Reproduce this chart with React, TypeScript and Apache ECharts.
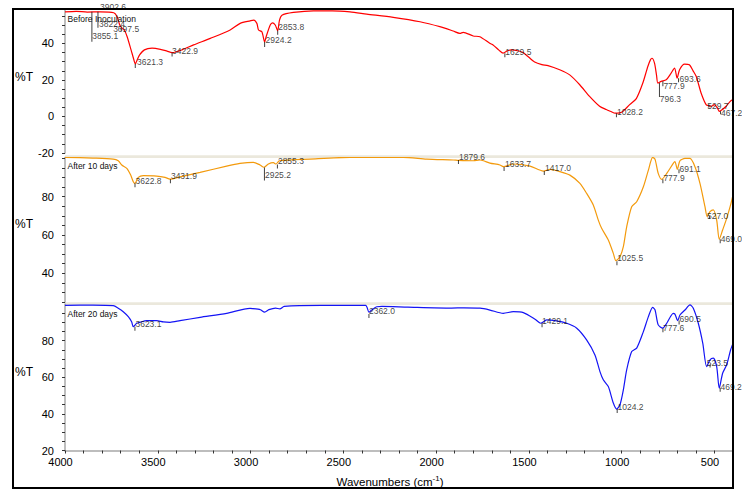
import React, { useEffect, useRef } from "react";
import * as echarts from "echarts";

// ---------- data (wavenumber cm-1, %T) ----------
const beforeInoculation: [number, number][] = [
  [4000, 57.3], [3940, 57.6], [3880, 57.2], [3809, 57.3], [3737, 56.8], [3719, 54.6], [3705, 50.1],
  [3692, 48.3], [3680, 47.4], [3665, 43.7], [3644, 36.5], [3630, 31.5], [3621, 28.8], [3610, 31.2],
  [3598, 33.7], [3572, 36.5], [3531, 37.4], [3486, 36.8], [3450, 35.8], [3423, 35.0], [3369, 36.5],
  [3307, 39.2], [3217, 42.8], [3110, 47.4], [3056, 51.0], [3002, 52.4], [2984, 52.8], [2966, 51.0],
  [2957, 47.4], [2939, 46.4], [2924, 40.8], [2916, 43.7], [2894, 50.1], [2882, 51.3], [2867, 50.1],
  [2854, 47.0], [2844, 52.8], [2831, 55.5], [2769, 57.0], [2661, 57.9], [2560, 57.9], [2464, 57.3],
  [2374, 56.1], [2231, 54.3], [2087, 51.9], [1980, 49.2], [1908, 46.8], [1872, 45.5], [1854, 46.1],
  [1800, 44.1], [1764, 43.7], [1711, 40.1], [1693, 39.2], [1660, 36.2], [1639, 34.7], [1615, 36.0],
  [1594, 36.5], [1560, 36.0], [1531, 35.0], [1500, 32.4], [1469, 29.8], [1430, 28.4], [1397, 27.9],
  [1334, 25.6], [1280, 22.8], [1226, 17.4], [1173, 11.0], [1119, 5.6], [1083, 3.8], [1055, 2.6],
  [1036, 1.8], [1010, 2.0], [993, 2.8], [957, 6.5], [921, 9.8], [886, 18.3], [859, 27.4], [845, 31.0],
  [837, 31.9], [823, 29.2], [812, 22.5], [805, 18.3], [787, 19.2], [760, 20.1], [735, 23.5], [715, 26.5],
  [701, 21.0], [688, 25.6], [661, 28.7], [635, 28.3], [615, 25.0], [598, 21.9], [572, 12.9], [545, 6.5],
  [530, 5.8], [518, 5.6], [500, 6.5], [485, 4.8], [473, 2.8], [455, 4.0], [437, 5.6], [415, 8.3], [400, 9.3],
];

const after10Days: [number, number][] = [
  [4000, 100.6], [3850, 100.2], [3740, 99.7], [3713, 98.8], [3694, 96.6], [3667, 94.8], [3646, 91.3],
  [3632, 87.8], [3623, 87.0], [3605, 90.1], [3578, 91.0], [3506, 90.8], [3461, 90.1], [3434, 89.2],
  [3380, 90.4], [3272, 92.7], [3129, 96.0], [3057, 97.4], [2985, 98.0], [2949, 96.6], [2928, 95.4],
  [2904, 97.1], [2877, 97.8], [2863, 97.1], [2845, 98.8], [2680, 99.7], [2464, 100.6], [2177, 100.6],
  [2051, 99.7], [1907, 99.2], [1880, 99.0], [1800, 98.8], [1763, 99.2], [1710, 97.6], [1656, 96.6],
  [1638, 95.7], [1584, 97.1], [1494, 96.0], [1422, 93.4], [1386, 94.3], [1332, 93.1], [1279, 91.3],
  [1225, 87.0], [1189, 81.8], [1153, 75.7], [1126, 67.8], [1108, 63.5], [1072, 57.4], [1045, 50.4],
  [1031, 46.6], [1009, 48.7], [991, 53.9], [973, 64.3], [946, 74.8], [919, 77.4], [883, 85.2],
  [856, 93.9], [833, 100.6], [820, 99.5], [803, 92.2], [784, 89.1], [757, 92.2], [722, 97.4],
  [713, 98.3], [700, 94.3], [686, 98.8], [659, 100.0], [632, 100.0], [605, 95.7], [578, 87.0],
  [551, 74.8], [539, 69.6], [524, 72.2], [506, 73.1], [488, 67.8], [474, 57.8], [456, 62.6],
  [434, 68.7], [413, 75.7], [400, 81.0],
];

const after20Days: [number, number][] = [
  [4000, 99.3], [3850, 99.4], [3740, 99.1], [3713, 97.7], [3686, 95.8], [3659, 93.1], [3641, 90.3],
  [3632, 87.6], [3614, 89.5], [3596, 90.0], [3560, 90.9], [3506, 90.9], [3470, 90.2], [3434, 90.0],
  [3380, 90.9], [3272, 92.7], [3129, 94.9], [3003, 97.6], [2960, 97.2], [2947, 96.9], [2924, 95.6],
  [2901, 96.9], [2866, 97.8], [2842, 97.3], [2819, 98.7], [2620, 99.3], [2380, 99.3], [2362, 95.5],
  [2345, 96.9], [2320, 98.5], [2292, 98.7], [2152, 98.3], [1918, 97.8], [1850, 97.9], [1763, 97.7],
  [1710, 96.7], [1638, 94.9], [1584, 95.8], [1530, 95.3], [1467, 91.7], [1436, 89.5], [1404, 91.3],
  [1359, 90.9], [1296, 89.5], [1242, 86.8], [1189, 80.4], [1144, 72.2], [1117, 63.1], [1099, 58.6],
  [1072, 54.9], [1045, 45.9], [1027, 42.6], [1009, 45.0], [991, 53.1], [973, 64.0], [946, 74.0],
  [919, 75.9], [883, 84.9], [856, 93.1], [833, 98.2], [820, 96.7], [803, 88.6], [779, 86.8],
  [757, 89.5], [722, 94.9], [713, 94.5], [698, 90.9], [686, 94.0], [659, 96.7], [632, 99.5],
  [614, 97.7], [587, 89.5], [563, 78.6], [542, 65.8], [524, 69.5], [506, 70.4], [488, 65.8],
  [474, 54.0], [456, 62.2], [434, 66.8], [413, 74.9], [400, 78.5],
];

// peak labels: [wavenumber, %T, text]
const peaksBefore: [number, number, string][] = [
  [3902.6, 57.3, "3902.6"], [3855.1, 57.3, "3855.1"], [3822.4, 57.3, "3822.4"], [3697.5, 48.6, "3697.5"],
  [3621.3, 28.8, "3621.3"], [3422.9, 35.0, "3422.9"], [2924.2, 40.8, "2924.2"], [2853.8, 47.0, "2853.8"],
  [1629.5, 34.7, "1629.5"], [1028.2, 1.8, "1028.2"], [796.3, 18.3, "796.3"], [777.9, 19.3, "777.9"],
  [693.6, 21.0, "693.6"], [529.7, 6.5, "529.7"], [467.2, 2.8, "467.2"],
];
const peaks10: [number, number, string][] = [
  [3622.8, 87.0, "3622.8"], [3431.9, 89.2, "3431.9"], [2925.2, 95.3, "2925.2"], [2855.3, 96.8, "2855.3"],
  [1879.6, 99.2, "1879.6"], [1633.7, 95.5, "1633.7"], [1417.0, 93.5, "1417.0"], [1025.5, 46.3, "1025.5"],
  [777.9, 89.1, "777.9"], [691.1, 94.3, "691.1"], [527.0, 70.0, "527.0"], [469.0, 57.8, "469.0"],
];
const peaks20: [number, number, string][] = [
  [3623.1, 87.6, "3623.1"], [2362.0, 94.5, "2362.0"], [1429.1, 89.5, "1429.1"], [1024.2, 42.6, "1024.2"],
  [777.6, 86.8, "777.6"], [690.5, 91.0, "690.5"], [523.5, 67.0, "523.5"], [469.2, 54.2, "469.2"],
];

const panelTitles = ["Before Inoculation", "After 10 days", "After 20 days"];
const yTitle = "%T";
const xTitle = "Wavenumbers (cm";
const xTitleSup = "-1";

// ---------- styles / layout ----------
const FONT = "'Liberation Sans', Arial, Helvetica, sans-serif";
const colors = ["#ff0000", "#f39a0c", "#1414f5"];
const grids = [
  { left: 65, top: 9.5, width: 668, height: 143.5 },
  { left: 65, top: 157.5, width: 668, height: 144.5 },
  { left: 65, top: 304, width: 668, height: 146.5 },
];
const yRanges: [number, number][] = [[-20, 58.6], [25, 100.5], [20, 100]];
const titleY = [19, 166, 314];
const yTitleY = [77, 224, 372];
// per-label style: [tick length, text dx, text dy]
const labelStyle: Record<string, [number, number, number]>[] = [
  {
    "3902.6": [0, 17, -5], "3855.1": [30, 0.3, 24], "3822.4": [16, 1, 12], "3697.5": [3, -8, 1.5],
    "3621.3": [4, 1.7, -2], "3422.9": [4, 0, -1.6], "2924.2": [5, 1, -2], "2853.8": [4, 0.5, -4],
    "1629.5": [4, 0.5, -1.5], "1028.2": [4, 0.5, -1.5], "796.3": [14, 0.3, 15.6], "777.9": [5, 0.5, 4.5],
    "693.6": [4, 1, 0.8], "529.7": [3, -1.7, 1.4], "467.2": [3, 0.5, 2],
  },
  {
    "3622.8": [4, 0.5, -2.3], "3431.9": [4, 0.5, -3], "2925.2": [13, 0.5, 7.3], "2855.3": [4, 0.5, -3.5],
    "1879.6": [4, 0.5, -2.6], "1633.7": [4, 1, -2.7], "1417.0": [4, 0.7, -3], "1025.5": [4, 0.2, -3],
    "777.9": [4, 0.5, -1], "691.1": [4, 0.5, 0], "527.0": [3, -2.5, 0], "469.0": [4, 0.5, 0],
  },
  {
    "3623.1": [4, 0.5, -2.4], "2362.0": [4, 0, -3], "1429.1": [4, 0, -2.5], "1024.2": [4, 0.3, -2.4],
    "777.6": [4, 0, 0], "690.5": [4, 0.5, -1.2], "523.5": [3, -3.4, -1], "469.2": [4, 0.3, -0.6],
  },
];

const spectra = [beforeInoculation, after10Days, after20Days];
const peakSets = [peaksBefore, peaks10, peaks20];

export default function App() {
  const ref = useRef<HTMLDivElement>(null);
  useEffect(() => {
    document.body.style.margin = "0";
    if (!ref.current) return;
    const chart = echarts.init(ref.current, undefined, { renderer: "svg" });

    const xAxis = grids.map((_, i) => ({
      type: "value",
      gridIndex: i,
      min: 400,
      max: 4000,
      interval: 100,
      inverse: true,
      show: i === 2,
      axisLine: { show: true, onZero: false, lineStyle: { color: "#a8a8a8", width: 1.5 } },
      axisTick: { show: true, length: 3, lineStyle: { color: "#333" } },
      axisLabel: {
        fontSize: 11, color: "#000", fontFamily: FONT, margin: 6, padding: [0, 9, 0, 0],
        formatter: (v: number) => (v % 500 === 0 ? String(v) : ""),
      },
      splitLine: { show: false },
    }));

    const yAxis = grids.map((_, i) => ({
      type: "value",
      gridIndex: i,
      min: yRanges[i][0],
      max: yRanges[i][1],
      interval: 5,
      axisLine: { show: true, onZero: false, lineStyle: { color: "#a8a8a8", width: 1.5 } },
      axisTick: { show: true, length: 3, lineStyle: { color: "#333" } },
      axisLabel: {
        fontSize: 11, color: "#000", fontFamily: FONT, margin: 11, showMaxLabel: false,
        formatter: (v: number) => (Math.abs(v % 20) < 1e-6 && v < 100 ? String(v) : ""),
      },
      splitLine: { show: false },
    }));

    const series: any[] = [];
    spectra.forEach((data, i) => {
      series.push({
        type: "line", xAxisIndex: i, yAxisIndex: i, data, showSymbol: false,
        smooth: 0.25, lineStyle: { color: colors[i], width: 1.2 }, silent: true, z: 3,
      });
    });
    peakSets.forEach((peaks, i) => {
      series.push({
        type: "scatter", xAxisIndex: i, yAxisIndex: i, symbol: "rect", silent: true, z: 4,
        itemStyle: { color: "#111" },
        data: peaks.map(([wn, t, txt]) => {
          const [len] = labelStyle[i][txt];
          return { value: [wn, t], symbolSize: [1, len], symbolOffset: [0, len / 2] };
        }),
      });
      series.push({
        type: "scatter", xAxisIndex: i, yAxisIndex: i, symbolSize: 1, silent: true, z: 5, clip: false,
        itemStyle: { color: "transparent" },
        data: peaks.map(([wn, t, txt]) => {
          const [, dx, dy] = labelStyle[i][txt];
          return {
            name: txt, value: [wn, t],
            label: { offset: [dx, dy] },
          };
        }),
        label: {
          show: true, formatter: "{b}", position: "inside", align: "left", verticalAlign: "middle",
          fontSize: 8.5, color: "#111", fontFamily: FONT,
        },
      });
    });

    const graphic: any[] = [
      { type: "rect", z: 0, shape: { x: 65, y: 155.3, width: 668, height: 2.6 }, style: { fill: "#ebe8dc" } },
      { type: "rect", z: 0, shape: { x: 65, y: 302.3, width: 668, height: 2.6 }, style: { fill: "#ebe8dc" } },
      { type: "rect", z: 100, shape: { x: 13, y: 9, width: 720, height: 479 }, style: { fill: "none", stroke: "#000", lineWidth: 2 } },
    ];
    panelTitles.forEach((t, i) => {
      graphic.push({
        type: "text", z: 50, x: 67.5, y: titleY[i],
        style: { text: t, fontSize: 8.5, fill: "#111", fontFamily: FONT, verticalAlign: "middle", align: "left" },
      });
      graphic.push({
        type: "text", z: 50, x: 15, y: yTitleY[i],
        style: { text: yTitle, fontSize: 12, fill: "#000", fontFamily: FONT, verticalAlign: "middle", align: "left" },
      });
    });
    graphic.push({
      type: "text", z: 50, x: 390, y: 481,
      style: {
        text: `{a|${xTitle}}{s|${xTitleSup}}{a|)}`,
        align: "center", verticalAlign: "middle", fontFamily: FONT,
        rich: {
          a: { fontSize: 11.5, fill: "#000", fontFamily: FONT, lineHeight: 14, verticalAlign: "bottom" },
          s: { fontSize: 8, fill: "#000", fontFamily: FONT, lineHeight: 14, verticalAlign: "top" },
        },
      },
    });

    chart.setOption({
      animation: false,
      backgroundColor: "#fff",
      grid: grids.map((g) => ({ ...g, containLabel: false })),
      xAxis,
      yAxis,
      series,
      graphic,
    });
    return () => chart.dispose();
  }, []);
  return <div ref={ref} style={{ width: 742, height: 490 }} />;
}
